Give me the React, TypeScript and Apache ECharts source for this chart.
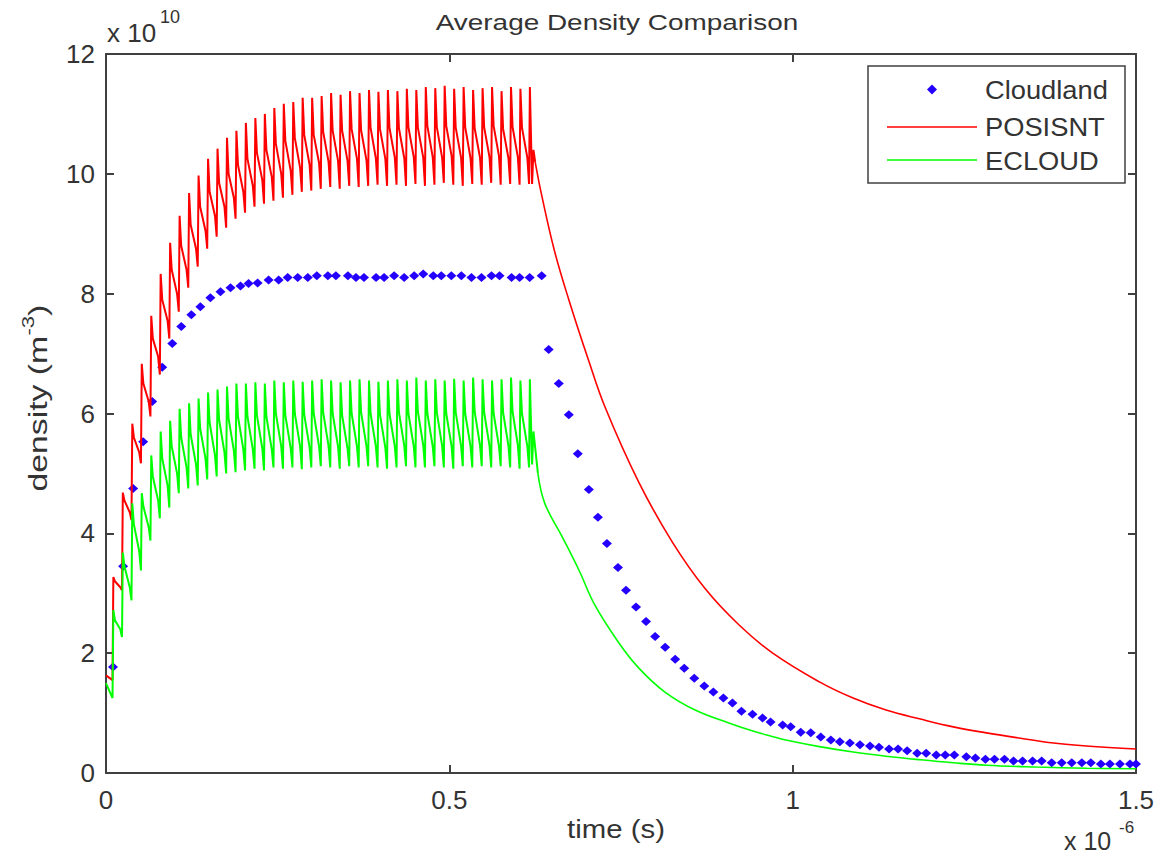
import React, { useEffect, useRef } from 'react';
import * as echarts from 'echarts';

// time in units of 1e-6 s, density in units of 1e10 m^-3
const bunchTimes = [
  0.0095, 0.0233, 0.0371, 0.0509, 0.0647, 0.0784, 0.0922, 0.106, 0.1198, 0.1336,
  0.1474, 0.1612, 0.175, 0.1887, 0.2025, 0.2163, 0.2301, 0.2439, 0.2577, 0.2715,
  0.2852, 0.299, 0.3128, 0.3266, 0.3404, 0.3542, 0.368, 0.3818, 0.3955, 0.4093,
  0.4231, 0.4369, 0.4507, 0.4645, 0.4783, 0.492, 0.5058, 0.5196, 0.5334, 0.5472,
  0.561, 0.5748, 0.5886, 0.6023, 0.6161,
];
const RISE = 0.0012; // duration of the rise to each peak
const HOLD = 0.0035; // time after a rise where the fast fall ends
const PRE = 0.0025; // time before the next rise where the slow decay ends

const posisntTroughs = [
  1.55, 3.05, 4.22, 5.17, 5.95, 6.65, 7.25, 7.7, 8.1, 8.45, 8.75, 8.95, 9.1, 9.25, 9.35,
  9.45, 9.5, 9.55, 9.6, 9.65, 9.7, 9.72, 9.75, 9.78, 9.75, 9.8, 9.78, 9.8, 9.82, 9.8,
  9.82, 9.8, 9.83, 9.8, 9.82, 9.85, 9.82, 9.8, 9.83, 9.82, 9.85, 9.82, 9.83, 9.82, 9.83,
];
const posisntPeaks = [
  3.27, 4.68, 5.83, 6.83, 7.63, 8.33, 8.85, 9.3, 9.68, 9.97, 10.25, 10.42, 10.6, 10.72, 10.85,
  10.93, 11.0, 11.1, 11.17, 11.2, 11.27, 11.27, 11.3, 11.35, 11.32, 11.38, 11.35, 11.4, 11.37, 11.4,
  11.38, 11.42, 11.4, 11.45, 11.43, 11.47, 11.42, 11.45, 11.4, 11.43, 11.45, 11.38, 11.45, 11.42, 11.45,
];
const posisntUpperMid = [
  3.2, 4.55, 5.6, 6.5, 7.25, 7.9, 8.4, 8.8, 9.15, 9.45, 9.7, 9.85, 10.0, 10.15, 10.25,
  10.35, 10.4, 10.5, 10.55, 10.6, 10.65, 10.65, 10.7, 10.72, 10.72, 10.75, 10.73, 10.77, 10.75, 10.77,
  10.76, 10.78, 10.77, 10.8, 10.78, 10.8, 10.77, 10.78, 10.76, 10.78, 10.8, 10.75, 10.78, 10.77, 10.78,
];
const posisntLowerMid = [
  3.1, 4.35, 5.35, 6.2, 6.95, 7.55, 8.0, 8.4, 8.75, 9.05, 9.3, 9.45, 9.6, 9.7, 9.8,
  9.9, 9.95, 10.0, 10.05, 10.1, 10.15, 10.18, 10.2, 10.22, 10.22, 10.25, 10.23, 10.26, 10.25, 10.27,
  10.26, 10.28, 10.27, 10.28, 10.27, 10.3, 10.27, 10.26, 10.27, 10.28, 10.3, 10.26, 10.28, 10.27, 10.28,
];
const ecloudTroughs = [
  1.25, 2.27, 2.88, 3.38, 3.88, 4.25, 4.43, 4.67, 4.75, 4.8, 4.9, 4.95, 5.0, 5.02, 5.05,
  5.08, 5.05, 5.1, 5.08, 5.1, 5.07, 5.1, 5.12, 5.1, 5.08, 5.12, 5.1, 5.12, 5.1, 5.08,
  5.1, 5.12, 5.1, 5.1, 5.12, 5.1, 5.08, 5.12, 5.1, 5.12, 5.1, 5.12, 5.1, 5.08, 5.1,
];
const ecloudPeaks = [
  2.72, 3.68, 4.5, 4.67, 5.3, 5.7, 5.88, 6.08, 6.17, 6.25, 6.35, 6.4, 6.45, 6.5, 6.5,
  6.52, 6.5, 6.55, 6.52, 6.55, 6.53, 6.55, 6.57, 6.55, 6.52, 6.55, 6.57, 6.55, 6.53, 6.55,
  6.57, 6.55, 6.6, 6.55, 6.57, 6.55, 6.58, 6.55, 6.6, 6.57, 6.55, 6.57, 6.6, 6.55, 6.57,
];
const ecloudUpperMid = [
  2.55, 3.45, 4.15, 4.45, 4.95, 5.25, 5.45, 5.6, 5.65, 5.75, 5.85, 5.9, 5.92, 5.95, 5.95,
  5.97, 5.95, 6.0, 5.97, 6.0, 5.98, 6.0, 6.02, 6.0, 5.97, 6.0, 6.02, 6.0, 5.98, 6.0,
  6.02, 6.0, 6.03, 6.0, 6.02, 6.0, 6.02, 6.0, 6.03, 6.02, 6.0, 6.02, 6.03, 6.0, 6.02,
];
const ecloudLowerMid = [
  2.4, 3.1, 3.7, 4.1, 4.55, 4.8, 5.0, 5.1, 5.15, 5.25, 5.3, 5.35, 5.38, 5.4, 5.4,
  5.42, 5.4, 5.45, 5.42, 5.45, 5.43, 5.45, 5.46, 5.45, 5.42, 5.45, 5.46, 5.45, 5.43, 5.45,
  5.46, 5.45, 5.47, 5.45, 5.46, 5.45, 5.46, 5.45, 5.47, 5.46, 5.45, 5.46, 5.47, 5.45, 5.46,
];

const posisntStart = [0, 1.63];
const ecloudStart = [0, 1.5];

// short bump right after the last bunch
const posisntTailTimes = [0.6205, 0.6225];
const posisntTailValues = [9.83, 10.4];
const ecloudTailTimes = [0.6205, 0.6225];
const ecloudTailValues = [5.15, 5.7];

const posisntDecayTimes = [
  0.625, 0.634, 0.653, 0.674, 0.703, 0.727, 0.776, 0.825, 0.873, 0.922,
  0.971, 1.039, 1.088, 1.136, 1.186, 1.234, 1.282, 1.332, 1.38, 1.428, 1.5,
];
const posisntDecayValues = [
  10.2, 9.67, 8.72, 7.9, 6.88, 6.1, 4.85, 3.85, 3.07, 2.47,
  2.0, 1.52, 1.25, 1.05, 0.9, 0.77, 0.67, 0.58, 0.5, 0.45, 0.4,
];
const ecloudDecayTimes = [
  0.629, 0.639, 0.664, 0.689, 0.712, 0.747, 0.776, 0.814, 0.858, 0.908,
  0.942, 0.97, 0.99, 1.039, 1.088, 1.136, 1.186, 1.234, 1.282, 1.355, 1.428, 1.5,
];
const ecloudDecayValues = [
  5.0, 4.5, 3.95, 3.38, 2.8, 2.17, 1.75, 1.35, 1.05, 0.83,
  0.7, 0.61, 0.55, 0.44, 0.35, 0.28, 0.22, 0.17, 0.13, 0.1, 0.08, 0.07,
];

const cloudlandTimes = [
  0.0102, 0.0249, 0.0395, 0.0541, 0.0673, 0.0819, 0.0965, 0.1096, 0.1243, 0.1374,
  0.152, 0.1667, 0.1813, 0.1959, 0.2076, 0.2208, 0.2368, 0.2515, 0.2646, 0.2792,
  0.2939, 0.307, 0.3231, 0.3348, 0.3523, 0.364, 0.3757, 0.3933, 0.405, 0.4196,
  0.4342, 0.4488, 0.462, 0.4766, 0.4883, 0.5029, 0.5175, 0.5322, 0.5468, 0.5614,
  0.5731, 0.5906, 0.6023, 0.617, 0.6345,
  0.6447, 0.6594, 0.674, 0.6871, 0.7032, 0.7164, 0.7295, 0.7456, 0.7573, 0.7719,
  0.7865, 0.7997, 0.8143, 0.8289, 0.8421, 0.8567, 0.8713, 0.8845, 0.8991, 0.9123,
  0.9254, 0.9415, 0.9561, 0.9678, 0.9854, 0.9971, 1.0117, 1.0263, 1.0409, 1.0556,
  1.0687, 1.0833, 1.098, 1.1126, 1.1257, 1.1404, 1.1535, 1.1667, 1.1813, 1.1944,
  1.2091, 1.2222, 1.2354, 1.2529, 1.2661, 1.2807, 1.2939, 1.3085, 1.3216, 1.3348,
  1.3494, 1.3626, 1.3772, 1.3918, 1.4064, 1.4211, 1.4342, 1.4488, 1.462, 1.4766,
  1.4912, 1.5,
];
const cloudlandValues = [
  1.77, 3.45, 4.75, 5.53, 6.2, 6.77, 7.17, 7.45, 7.65, 7.78,
  7.93, 8.03, 8.1, 8.13, 8.17, 8.18, 8.23, 8.23, 8.27, 8.27,
  8.27, 8.3, 8.3, 8.3, 8.3, 8.27, 8.27, 8.27, 8.27, 8.3,
  8.27, 8.3, 8.33, 8.3, 8.3, 8.3, 8.3, 8.27, 8.27, 8.3,
  8.3, 8.27, 8.27, 8.27, 8.3,
  7.07, 6.5, 5.98, 5.33, 4.73, 4.27, 3.83, 3.43, 3.05, 2.77,
  2.53, 2.28, 2.1, 1.9, 1.75, 1.58, 1.45, 1.35, 1.25, 1.17,
  1.03, 0.98, 0.92, 0.85, 0.8, 0.77, 0.68, 0.67, 0.6, 0.55,
  0.52, 0.5, 0.47, 0.45, 0.43, 0.4, 0.4, 0.37, 0.33, 0.33,
  0.3, 0.3, 0.3, 0.27, 0.25, 0.23, 0.23, 0.23, 0.2, 0.2,
  0.2, 0.2, 0.17, 0.17, 0.17, 0.17, 0.17, 0.15, 0.15, 0.15,
  0.15, 0.15,
];

const xTicks = { min: 0, max: 1.5, interval: 0.5 };
const yTicks = { min: 0, max: 12, interval: 2 };
const legendNames = ['Cloudland', 'POSISNT', 'ECLOUD'];

const RED = '#ff0000';
const GREEN = '#00ff00';
const BLUE = '#2400ff';

function buildWave(
  start: number[], troughs: number[], peaks: number[], upper: number[], lower: number[],
  tailT: number[], tailV: number[], decayT: number[], decayV: number[],
) {
  const pts: number[][] = [start];
  const n = bunchTimes.length;
  bunchTimes.forEach((t, i) => {
    pts.push([t, troughs[i]]);
    pts.push([t + RISE, peaks[i]]);
    if (i < n - 1) {
      pts.push([t + HOLD, upper[i]]);
      pts.push([bunchTimes[i + 1] - PRE, lower[i]]);
    }
  });
  tailT.forEach((t, i) => pts.push([t, tailV[i]]));
  pts.push([decayT[0], decayV[0]]);
  return pts;
}

const FONT = 'Liberation Sans, Arial, sans-serif';
const AXIS_COLOR = '#404040';
const TEXT_COLOR = '#333333';

export default function App() {
  const ref = useRef<HTMLDivElement>(null);
  useEffect(() => {
    if (!ref.current) return;
    const chart = echarts.init(ref.current, undefined, { renderer: 'svg' });
    const axisLine = { show: true, onZero: false, lineStyle: { color: AXIS_COLOR, width: 2 } };
    const axisTick = { show: true, inside: true, length: 8, lineStyle: { color: AXIS_COLOR, width: 2 } };
    const txt = (x: number, y: number, text: string, fontSize: number, align = 'left', scaleX = 1) => ({
      type: 'text', x, y, scaleX,
      style: { text, fontSize, fontFamily: FONT, fill: TEXT_COLOR, align, verticalAlign: 'middle' },
    });
    const option: any = {
      animation: false,
      backgroundColor: '#ffffff',
      grid: { left: 106, right: 22, top: 54, bottom: 82 },
      xAxis: [
        {
          type: 'value', ...xTicks, position: 'bottom',
          axisLine, axisTick, splitLine: { show: false },
          axisLabel: { fontSize: 26, color: TEXT_COLOR, fontFamily: FONT, margin: 14 },
        },
        {
          type: 'value', ...xTicks, position: 'top',
          axisLine, axisTick, splitLine: { show: false }, axisLabel: { show: false },
        },
      ],
      yAxis: [
        {
          type: 'value', ...yTicks, position: 'left',
          axisLine, axisTick, splitLine: { show: false },
          axisLabel: { fontSize: 26, color: TEXT_COLOR, fontFamily: FONT, margin: 11 },
        },
        {
          type: 'value', ...yTicks, position: 'right',
          axisLine, axisTick, splitLine: { show: false }, axisLabel: { show: false },
        },
      ],
      graphic: [
        txt(617, 22, 'Average Density Comparison', 22, 'center', 1.27),
        txt(107, 33, 'x 10', 26),
        txt(160, 17, '10', 18),
        txt(616, 829, 'time (s)', 26, 'center', 1.13),
        txt(1064, 841, 'x 10', 25),
        txt(1119, 827, '-6', 17),
        {
          type: 'group', x: 38, y: 398, rotation: Math.PI / 2, scaleX: 1.3,
          children: [
            { type: 'text', x: -72, y: 0, style: { text: 'density (m', fontSize: 26, fontFamily: FONT, fill: TEXT_COLOR, align: 'left', verticalAlign: 'middle' } },
            { type: 'text', x: 48, y: -10, style: { text: '-3', fontSize: 17, fontFamily: FONT, fill: TEXT_COLOR, align: 'left', verticalAlign: 'middle' } },
            { type: 'text', x: 63, y: 0, style: { text: ')', fontSize: 26, fontFamily: FONT, fill: TEXT_COLOR, align: 'left', verticalAlign: 'middle' } },
          ],
        },
        // legend box
        {
          type: 'group', x: 868, y: 66, z: 100,
          children: [
            { type: 'rect', shape: { x: 0, y: 0, width: 257, height: 117 }, style: { fill: '#ffffff', stroke: AXIS_COLOR, lineWidth: 1.5 } },
            { type: 'polygon', shape: { points: [[64, 18.5], [69, 23.5], [64, 28.5], [59, 23.5]] }, style: { fill: BLUE } },
            { type: 'line', shape: { x1: 19, y1: 61, x2: 109, y2: 61 }, style: { stroke: RED, lineWidth: 1.6 } },
            { type: 'line', shape: { x1: 19, y1: 94, x2: 109, y2: 94 }, style: { stroke: GREEN, lineWidth: 1.6 } },
            { type: 'text', x: 117, y: 24, scaleX: 1.05, style: { text: legendNames[0], fontSize: 26, fontFamily: FONT, fill: TEXT_COLOR, align: 'left', verticalAlign: 'middle' } },
            { type: 'text', x: 117, y: 61, scaleX: 1.05, style: { text: legendNames[1], fontSize: 26, fontFamily: FONT, fill: TEXT_COLOR, align: 'left', verticalAlign: 'middle' } },
            { type: 'text', x: 117, y: 95, scaleX: 1.05, style: { text: legendNames[2], fontSize: 26, fontFamily: FONT, fill: TEXT_COLOR, align: 'left', verticalAlign: 'middle' } },
          ],
        },
      ],
      series: [
        {
          name: legendNames[0], type: 'scatter', xAxisIndex: 0, yAxisIndex: 0,
          symbol: 'diamond', symbolSize: [10, 9],
          itemStyle: { color: BLUE, opacity: 1 },
          data: cloudlandTimes.map((t, i) => [t, cloudlandValues[i]]),
        },
        {
          name: legendNames[1], type: 'line', xAxisIndex: 0, yAxisIndex: 0,
          symbol: 'none', showSymbol: false,
          lineStyle: { color: RED, width: 2 },
          data: buildWave(posisntStart, posisntTroughs, posisntPeaks, posisntUpperMid, posisntLowerMid,
            posisntTailTimes, posisntTailValues, posisntDecayTimes, posisntDecayValues),
        },
        {
          name: legendNames[1] + ' decay', type: 'line', xAxisIndex: 0, yAxisIndex: 0,
          symbol: 'none', showSymbol: false, smooth: 0.4,
          lineStyle: { color: RED, width: 1.6 },
          data: posisntDecayTimes.map((t, i) => [t, posisntDecayValues[i]]),
        },
        {
          name: legendNames[2], type: 'line', xAxisIndex: 0, yAxisIndex: 0,
          symbol: 'none', showSymbol: false,
          lineStyle: { color: GREEN, width: 2 },
          data: buildWave(ecloudStart, ecloudTroughs, ecloudPeaks, ecloudUpperMid, ecloudLowerMid,
            ecloudTailTimes, ecloudTailValues, ecloudDecayTimes, ecloudDecayValues),
        },
        {
          name: legendNames[2] + ' decay', type: 'line', xAxisIndex: 0, yAxisIndex: 0,
          symbol: 'none', showSymbol: false, smooth: 0.4,
          lineStyle: { color: GREEN, width: 1.6 },
          data: ecloudDecayTimes.map((t, i) => [t, ecloudDecayValues[i]]),
        },
      ],
    };
    chart.setOption(option);
    return () => chart.dispose();
  }, []);
  return <div ref={ref} style={{ position: 'fixed', left: 0, top: 0, width: 1158, height: 855, background: '#fff' }} />;
}
